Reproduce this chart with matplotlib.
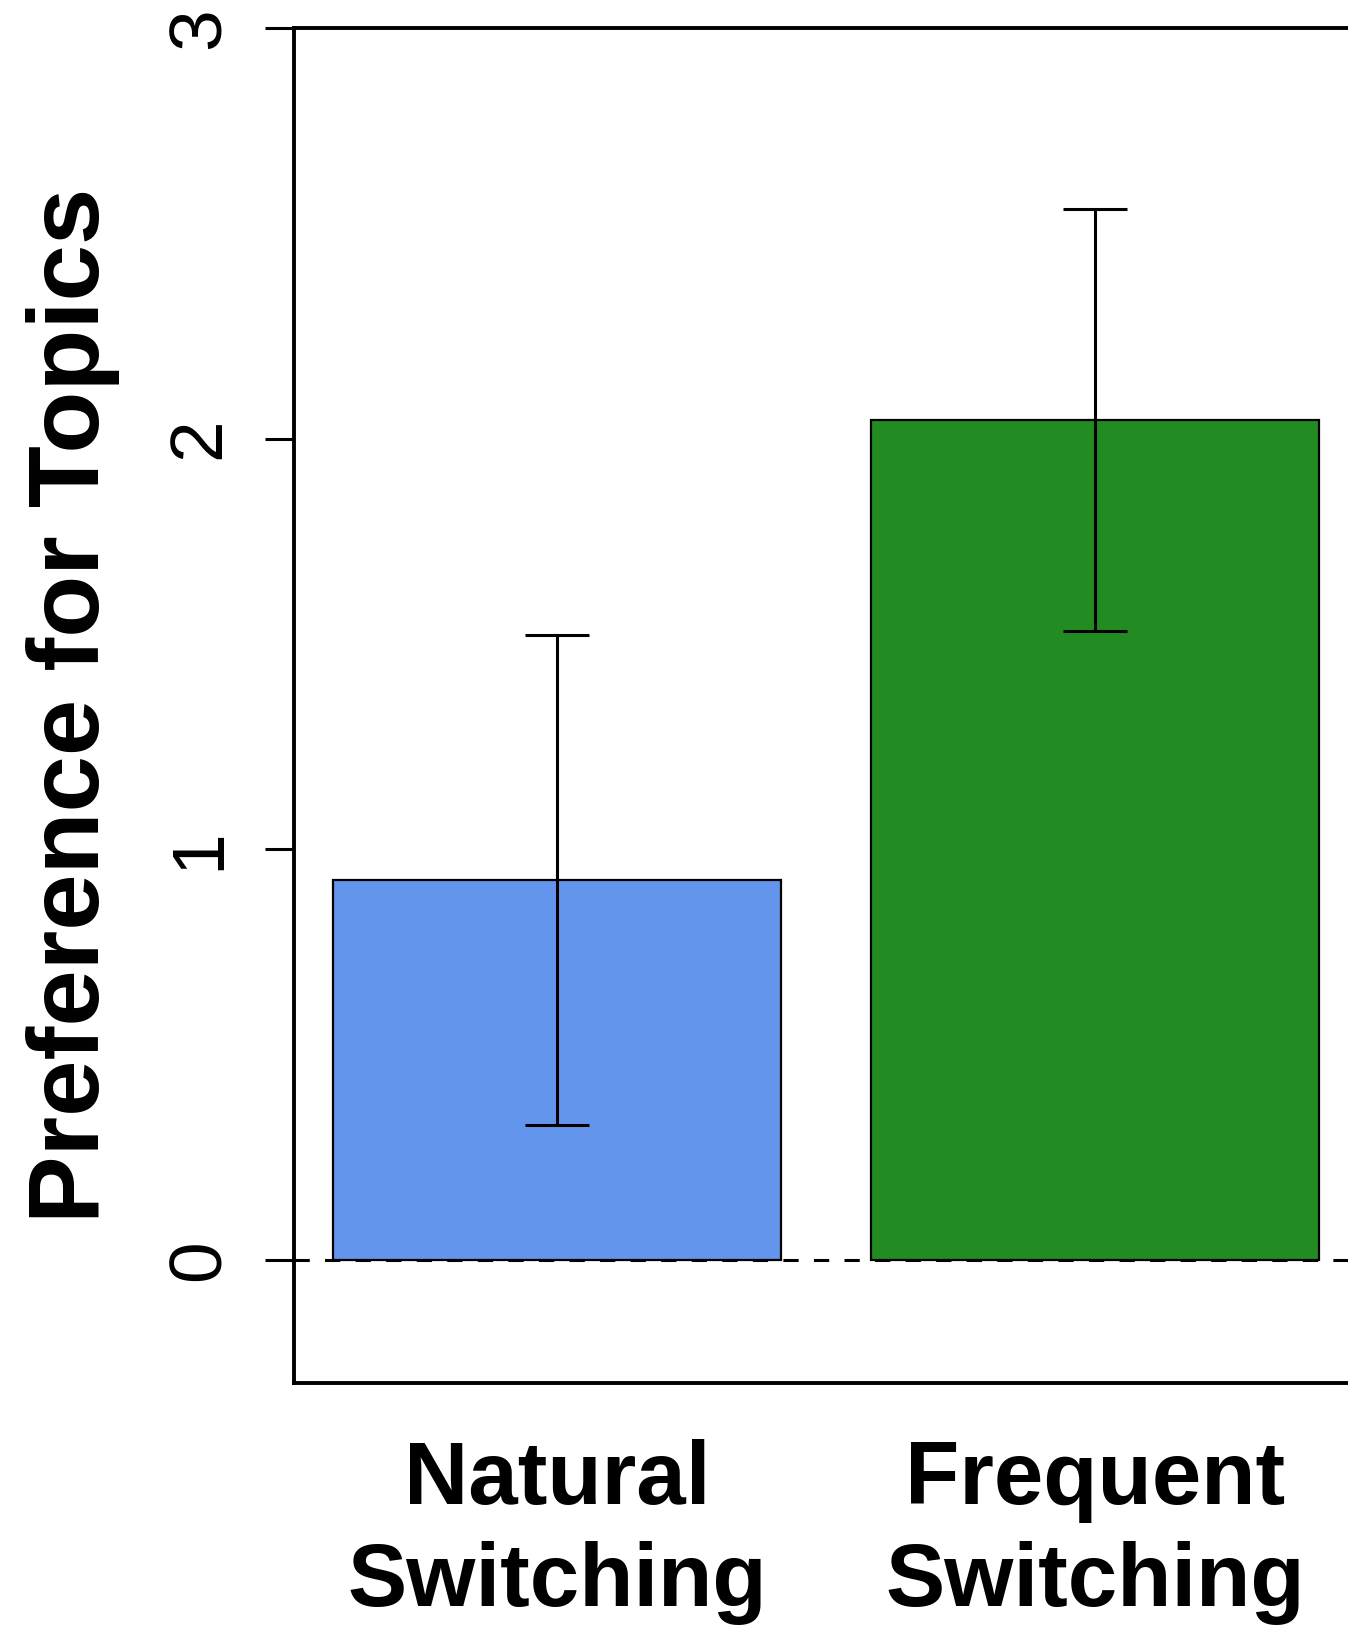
import matplotlib
matplotlib.use("Agg")
import matplotlib.pyplot as plt

# bar data
conditions = ["Natural\nSwitching", "Frequent\nSwitching"]
means = [0.925, 2.045]
errors = [0.597, 0.513]
colors = ["cornflowerblue", "forestgreen"]
yticks = [0, 1, 2, 3]

plt.rcParams['font.family'] = ['Liberation Sans', 'DejaVu Sans']

fig = plt.figure(figsize=(13.48, 16.29), dpi=100)
ax = fig.add_axes([294 / 1348, 1 - 1383 / 1629, 1064.5 / 1348, 1355 / 1629])

# R barplot style positions: width 1, space 0.2
xpos = [0.7 + 1.2 * i for i in range(len(means))]
ax.bar(xpos, means, width=1.0, color=colors, edgecolor="black", linewidth=1.6, zorder=2)
ax.errorbar(xpos, means, yerr=errors, fmt="none", ecolor="black",
            elinewidth=2.2, capsize=23, capthick=2.2, zorder=3)
ax.axhline(0, color="black", linewidth=2.2, dashes=(5, 5), zorder=1)

ax.set_xlim(0.112, 2.488)
ax.set_ylim(-0.3, 3)

ax.set_yticks(yticks)
ax.set_yticklabels([str(v) for v in yticks], rotation=90, va="center", fontsize=54)
ax.tick_params(axis="y", length=21, width=2.2, pad=22)

ax.set_xticks(xpos)
ax.set_xticklabels(conditions, fontsize=64, fontweight="bold", linespacing=1.28)
ax.tick_params(axis="x", length=0, pad=40)

for s in ax.spines.values():
    s.set_linewidth(2.8)

ax.set_ylabel("Preference for Topics", fontsize=73, fontweight="bold")
ax.yaxis.label.set_va("center")
ax.yaxis.set_label_coords(-0.2075, 0.5)

fig.savefig("out.png", dpi=100)
